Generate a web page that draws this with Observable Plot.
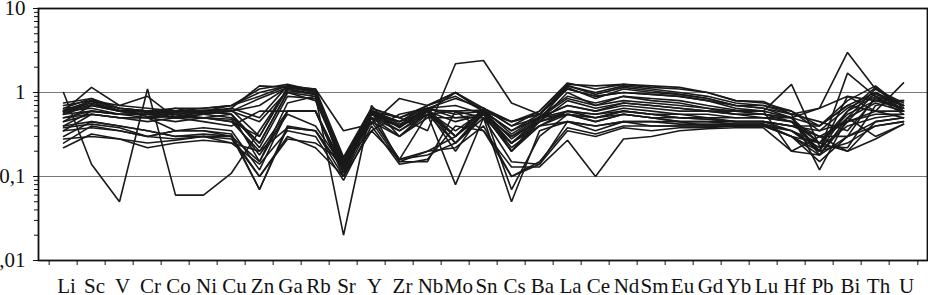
<!DOCTYPE html>
<html>
<head>
<meta charset="utf-8">
<script src="https://cdn.jsdelivr.net/npm/d3@7"></script>
<script src="https://cdn.jsdelivr.net/npm/@observablehq/plot@0.6"></script>
<style>
  html, body { margin: 0; padding: 0; background: #fff; }
  #chart { width: 928px; height: 295px; overflow: hidden; }
  #chart svg, #chart svg text, #chart svg g { font-family: "Liberation Serif", "Times New Roman", Times, "DejaVu Serif", serif !important; }
</style>
</head>
<body>
<div id="chart"></div>
<script>
const categories = ["Li","Sc","V","Cr","Co","Ni","Cu","Zn","Ga","Rb","Sr","Y","Zr","Nb","Mo","Sn","Cs","Ba","La","Ce","Nd","Sm","Eu","Gd","Yb","Lu","Hf","Pb","Bi","Th","U"];

const yMajorTicks = [0.01, 0.1, 1, 10];
const yMajorLabels = ["0,01", "0,1", "1", "10"];
const yMinorTicks = [0.02,0.03,0.04,0.05,0.06,0.07,0.08,0.09,0.2,0.3,0.4,0.5,0.6,0.7,0.8,0.9,2,3,4,5,6,7,8,9];
const gridValues = [0.1, 1];

const s1  = [1.0, 0.14, 0.05, 1.1, 0.06, 0.06, 0.11, 0.35, 1.1, 0.95, 0.12, 0.55, 0.4, 0.6, 0.3, 0.55, 0.25, 0.45, 1.0, 0.7, 0.9, 0.8, 0.75, 0.65, 0.55, 0.5, 0.45, 0.25, 0.6, 0.9, 0.6];
const s2  = [0.6, 1.15, 0.7, 0.9, 0.5, 0.55, 0.65, 1.2, 1.15, 1.1, 0.35, 0.42, 0.85, 0.7, 1.0, 0.6, 0.45, 0.6, 1.25, 1.2, 1.25, 1.2, 1.15, 1.0, 0.8, 0.78, 0.55, 0.65, 3.0, 1.1, 0.75];
const s3  = [0.55, 0.8, 0.65, 0.6, 0.5, 0.6, 0.7, 0.9, 1.2, 1.0, 0.15, 0.6, 0.5, 0.35, 2.2, 2.4, 0.75, 0.55, 1.1, 0.9, 1.0, 0.95, 0.9, 0.8, 0.65, 0.6, 0.5, 0.4, 0.8, 1.2, 0.65];
const s4  = [0.35, 0.55, 0.5, 0.5, 0.45, 0.5, 0.55, 0.25, 1.0, 0.9, 0.02, 0.7, 0.3, 0.55, 0.25, 0.55, 0.2, 0.4, 0.6, 0.5, 0.6, 0.55, 0.5, 0.5, 0.45, 0.45, 0.35, 0.2, 0.9, 0.6, 0.5];
const s5  = [0.3, 0.45, 0.4, 0.35, 0.3, 0.32, 0.3, 0.07, 0.38, 0.35, 0.12, 0.5, 0.16, 0.55, 0.08, 0.5, 0.05, 0.35, 0.45, 0.35, 0.45, 0.4, 0.4, 0.4, 0.4, 0.4, 0.3, 0.15, 0.3, 0.45, 0.5];
const s6  = [0.4, 0.6, 0.55, 0.5, 0.35, 0.35, 0.3, 0.15, 0.6, 0.6, 0.1, 0.45, 0.15, 0.15, 0.6, 0.35, 0.13, 0.13, 0.27, 0.1, 0.28, 0.3, 0.35, 0.37, 0.38, 0.38, 0.2, 0.3, 0.2, 0.28, 0.42];
const s7  = [0.6, 0.75, 0.6, 0.55, 0.5, 0.55, 0.6, 0.7, 1.15, 1.05, 0.13, 0.55, 0.45, 0.6, 1.0, 0.6, 0.35, 0.5, 0.7, 0.6, 0.75, 0.7, 0.65, 0.6, 0.6, 0.6, 1.25, 0.23, 0.22, 0.7, 0.8];
const s8  = [0.45, 0.7, 0.6, 0.6, 0.55, 0.5, 0.45, 0.3, 1.1, 0.95, 0.14, 0.5, 0.4, 0.65, 0.5, 0.55, 0.3, 0.5, 0.85, 0.7, 0.8, 0.75, 0.7, 0.65, 0.6, 0.55, 0.5, 0.2, 1.7, 0.9, 0.7];
const s9  = [0.55, 0.6, 0.55, 0.55, 0.6, 0.65, 0.7, 1.1, 1.25, 1.05, 0.12, 0.6, 0.45, 0.7, 0.9, 0.6, 0.45, 0.55, 1.2, 1.0, 1.2, 1.1, 1.0, 0.9, 0.75, 0.7, 0.55, 0.12, 0.5, 1.1, 0.7];
const s10 = [0.28, 0.3, 0.28, 0.25, 0.27, 0.3, 0.3, 0.1, 0.28, 0.25, 0.15, 0.35, 0.55, 0.65, 0.3, 0.65, 0.4, 0.5, 0.55, 0.45, 0.55, 0.5, 0.45, 0.45, 0.45, 0.45, 0.4, 0.35, 0.45, 0.55, 0.55];
const s11 = [0.38, 0.42, 0.38, 0.3, 0.35, 0.35, 0.32, 0.07, 0.4, 0.35, 0.1, 0.6, 0.15, 0.2, 0.3, 0.6, 0.07, 0.3, 0.55, 0.45, 0.55, 0.5, 0.45, 0.4, 0.4, 0.4, 0.35, 0.22, 0.4, 0.5, 0.55];
const s12 = [0.22, 0.32, 0.28, 0.22, 0.25, 0.27, 0.25, 0.14, 0.35, 0.3, 0.09, 0.4, 0.14, 0.16, 0.4, 0.35, 0.1, 0.14, 0.35, 0.3, 0.38, 0.35, 0.38, 0.38, 0.4, 0.4, 0.3, 0.18, 0.3, 0.4, 0.45];
const s13 = [0.65, 0.85, 0.65, 0.6, 0.65, 0.65, 0.7, 1.0, 1.2, 1.1, 0.17, 0.65, 0.5, 0.7, 1.0, 0.65, 0.4, 0.6, 1.3, 1.1, 1.25, 1.15, 1.1, 1.0, 0.8, 0.75, 0.6, 0.4, 0.7, 1.0, 0.6];
const s14 = [0.7, 0.8, 0.7, 0.65, 0.6, 0.55, 0.5, 0.25, 1.0, 0.8, 0.14, 0.55, 0.4, 0.6, 0.35, 0.6, 0.25, 0.5, 0.7, 0.6, 0.7, 0.65, 0.6, 0.6, 0.55, 0.55, 0.5, 0.25, 0.55, 0.8, 0.65];
const s15 = [0.5, 0.6, 0.55, 0.55, 0.5, 0.5, 0.45, 0.2, 0.6, 0.6, 0.13, 0.5, 0.35, 0.6, 0.45, 0.55, 0.2, 0.45, 0.6, 0.55, 0.6, 0.55, 0.55, 0.5, 0.5, 0.5, 0.45, 0.2, 0.6, 1.15, 0.6];
const s16 = [0.6, 0.65, 0.55, 0.55, 0.55, 0.6, 0.55, 0.15, 0.75, 0.9, 0.16, 0.6, 0.38, 0.65, 0.7, 0.55, 0.3, 0.45, 0.8, 0.65, 0.75, 0.7, 0.65, 0.6, 0.55, 0.55, 0.45, 0.3, 0.3, 0.9, 0.55];
const s17 = [0.25, 0.4, 0.35, 0.3, 0.35, 0.38, 0.35, 0.12, 0.6, 0.6, 0.12, 0.55, 0.35, 0.55, 0.6, 0.5, 0.25, 0.4, 0.45, 0.4, 0.45, 0.45, 0.42, 0.42, 0.42, 0.42, 0.35, 0.25, 0.2, 0.45, 0.5];
const s18 = [0.55, 0.7, 0.6, 0.55, 0.65, 0.55, 0.6, 0.85, 1.15, 1.0, 0.16, 0.65, 0.5, 0.65, 0.85, 0.65, 0.45, 0.55, 1.2, 0.95, 1.15, 1.05, 0.95, 0.85, 0.7, 0.7, 0.6, 0.35, 0.65, 0.95, 0.7];
const s19 = [0.75, 0.85, 0.6, 0.6, 0.6, 0.6, 0.55, 0.22, 0.9, 0.85, 0.14, 0.6, 0.4, 0.55, 0.3, 0.65, 0.2, 0.5, 0.6, 0.55, 0.65, 0.6, 0.55, 0.55, 0.5, 0.5, 0.5, 0.18, 0.5, 0.75, 0.6];
const s20 = [0.4, 0.45, 0.4, 0.35, 0.3, 0.3, 0.25, 0.2, 0.38, 0.35, 0.12, 0.5, 0.16, 0.18, 0.25, 0.5, 0.15, 0.14, 0.45, 0.4, 0.45, 0.45, 0.45, 0.45, 0.42, 0.42, 0.3, 0.2, 0.25, 0.4, 0.45];
const s21 = [0.6, 0.8, 0.65, 0.6, 0.55, 0.6, 0.65, 0.5, 1.2, 1.05, 0.13, 0.6, 0.45, 0.65, 0.55, 0.6, 0.35, 0.55, 1.1, 0.9, 1.0, 0.95, 0.9, 0.8, 0.7, 0.65, 0.55, 0.45, 0.35, 0.85, 0.65];
const s22 = [0.5, 0.55, 0.5, 0.45, 0.5, 0.45, 0.4, 0.6, 0.6, 0.6, 0.11, 0.5, 0.3, 0.6, 0.2, 0.6, 0.22, 0.4, 0.55, 0.5, 0.55, 0.5, 0.5, 0.48, 0.45, 0.45, 0.4, 0.3, 0.45, 0.6, 1.3];
const s23 = [0.58, 0.72, 0.62, 0.58, 0.58, 0.62, 0.6, 0.45, 1.05, 0.95, 0.13, 0.62, 0.42, 0.62, 0.6, 0.62, 0.32, 0.52, 0.9, 0.75, 0.9, 0.85, 0.8, 0.7, 0.62, 0.6, 0.2, 0.18, 0.45, 1.0, 0.7];
const s24 = [0.62, 0.78, 0.6, 0.52, 0.52, 0.58, 0.62, 0.3, 1.15, 1.05, 0.11, 0.58, 0.4, 0.62, 0.25, 0.6, 0.28, 0.48, 1.15, 0.85, 1.1, 1.0, 0.95, 0.85, 0.7, 0.65, 0.5, 0.65, 0.9, 0.8, 0.8];
const s25 = [0.45, 0.55, 0.5, 0.5, 0.52, 0.5, 0.48, 0.18, 0.55, 0.4, 0.13, 0.45, 0.3, 0.5, 0.5, 0.5, 0.25, 0.45, 0.55, 0.5, 0.6, 0.55, 0.5, 0.48, 0.45, 0.45, 0.4, 0.4, 0.7, 0.6, 0.6];
const s26 = [0.35, 0.38, 0.35, 0.3, 0.28, 0.3, 0.28, 0.1, 0.3, 0.22, 0.1, 0.35, 0.16, 0.2, 0.22, 0.4, 0.1, 0.15, 0.38, 0.32, 0.4, 0.4, 0.4, 0.4, 0.4, 0.42, 0.3, 0.25, 0.5, 0.3, 0.42];

const seriesList = [s1,s2,s3,s4,s5,s6,s7,s8,s9,s10,s11,s12,s13,s14,s15,s16,s17,s18,s19,s20,s21,s22,s23,s24,s25,s26];

const rows = [];
seriesList.forEach((s, k) => s.forEach((v, i) => rows.push({sample: k, element: categories[i], value: v})));

const W = 928, H = 295;
const marginLeft = 38, marginRight = 1, marginTop = 8, marginBottom = 35;
const step = (W - marginLeft - marginRight) / categories.length;
const serif = "'Liberation Serif', 'Times New Roman', Times, 'DejaVu Serif', serif";

const chart = Plot.plot({
  width: W,
  height: H,
  marginLeft, marginRight, marginTop, marginBottom,
  style: {fontSize: "21px", fontFamily: serif, background: "#fff", color: "#111", overflow: "visible"},
  x: {type: "point", domain: categories, padding: 0.5, axis: null, label: null},
  y: {type: "log", domain: [0.01, 10], axis: null, label: null},
  marks: [
    Plot.ruleY(gridValues, {stroke: "#777", strokeWidth: 1}),
    Plot.line(rows, {x: "element", y: "value", z: "sample", stroke: "#1a1a1a", strokeWidth: 1.6, strokeLinejoin: "miter"}),
    Plot.frame({stroke: "#111", strokeWidth: 1.8}),
    Plot.axisY({ticks: yMajorTicks, tickFormat: (d) => yMajorLabels[yMajorTicks.indexOf(d)], tickSize: 5, tickPadding: 8, fontSize: 21, stroke: "#111", label: null}),
    Plot.axisY({ticks: yMinorTicks, tickSize: 4, text: null, stroke: "#111", label: null}),
    Plot.axisX({ticks: categories, tickSize: 5, text: null, dx: -step / 2, stroke: "#111", label: null}),
    Plot.axisX({ticks: categories.slice(-1), tickSize: 5, text: null, dx: step / 2, stroke: "#111", label: null}),
    Plot.axisX({ticks: categories, tickSize: 0, tickPadding: 18, dx: 3, fontSize: 21, label: null})
  ]
});
chart.querySelectorAll("text").forEach((t) => t.setAttribute("font-family", serif));
document.getElementById("chart").appendChild(chart);
</script>
</body>
</html>
